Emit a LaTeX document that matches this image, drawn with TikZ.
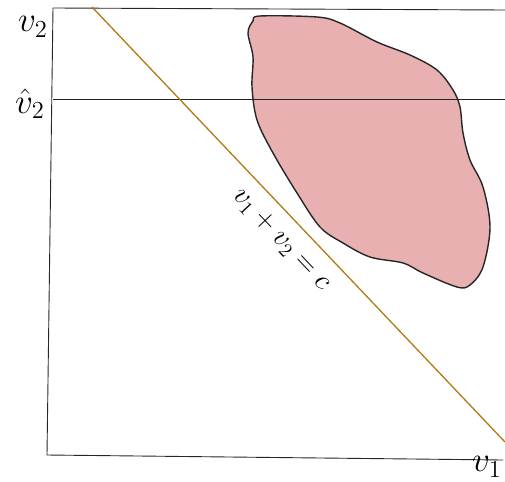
\documentclass[tikz,border=0pt]{standalone}
\begin{document}
\begin{tikzpicture}[x=1pt,y=-1pt,
  axis/.style={line width=0.9pt,black!85},
  budget/.style={line width=1.3pt,draw={rgb,255:red,178;green,122;blue,18}},
  blob/.style={line width=1.4pt,draw=black!85,fill={rgb,255:red,232;green,176;blue,176}},
  lab/.style={font=\huge,scale=1.7,inner sep=0pt},
  dlab/.style={font=\huge,scale=1.38,inner sep=0pt}]
\useasboundingbox (0,0) rectangle (505,481);
\coordinate (tl) at (53,8);
\coordinate (bl) at (47,455);
\coordinate (tr) at (505,10);
\coordinate (br) at (503,460);
\coordinate (hl) at (53,99);
\coordinate (hr) at (505,99);
\coordinate (ls) at (92,7);
\coordinate (le) at (505,442);
\draw[blob] plot[smooth cycle,tension=0.55] coordinates {
 (260,16) (317,17) (340,23) (377,42) (410,55) (437,70) (453,90) (460,107)
 (463,133) (470,160) (483,187) (490,227) (483,267) (470,285) (457,287)
 (423,273) (403,263) (370,257) (343,243) (320,227) (297,193) (273,153)
 (257,120) (252,87) (253,57) (248,33) (253,21)};
\draw[axis] (tl) -- (bl) -- (br);
\draw[axis] (tl) -- (tr);
\draw[axis] (hl) -- (hr);
\draw[budget] (ls) -- (le);
\node[lab] (v2) at (33,27) {$v_2$};
\node[lab] (v2h) at (30,104) {$\hat v_2$};
\node[lab] (v1) at (487,467) {$v_1$};
\node[dlab,rotate=-46.5] (c) at (281,240) {$v_1+v_2=c$};
\end{tikzpicture}
\end{document}
